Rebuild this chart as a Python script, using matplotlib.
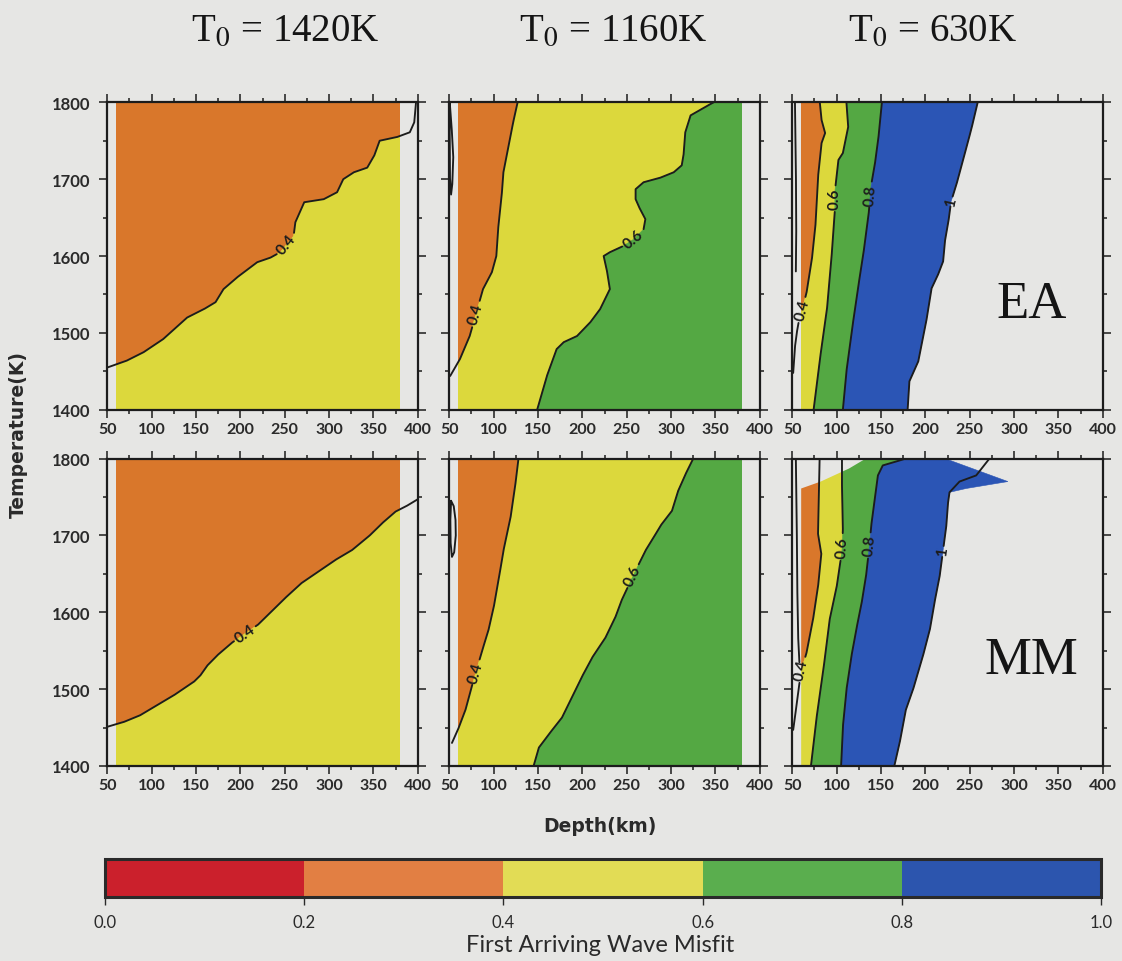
import numpy as np
import matplotlib
matplotlib.use("Agg")
import matplotlib.pyplot as plt
import matplotlib as mpl
from matplotlib.patches import Polygon
from matplotlib.colors import ListedColormap, BoundaryNorm
from matplotlib.ticker import MultipleLocator

plt.rcParams["mathtext.fontset"] = "stix"

# ---------------------------------------------------------------- data
misfit_levels = [0.0, 0.2, 0.4, 0.6, 0.8, 1.0]
band_colors = ["#c9202b", "#d9772b", "#dcd83c", "#54a843", "#2b55b5"]
cbar_colors = ["#cb202c", "#e27f43", "#e2dc55", "#5aae4e", "#2c55ae"]
surface_temps = ["1420K", "1160K", "630K"]
models = ["EA", "MM"]
depth_ticks = [50, 100, 150, 200, 250, 300, 350, 400]
temp_ticks = [1400, 1500, 1600, 1700, 1800]
cbar_ticks = [0.0, 0.2, 0.4, 0.6, 0.8, 1.0]

# EA, T0 = 1420K
ea1420_c04_depth = [50, 72, 91, 113, 140, 159, 172, 181, 196, 219, 234, 245, 260, 262,
                    272, 294, 309, 316, 328, 343, 351, 357, 377, 391, 396, 398]
ea1420_c04_temp = [1455, 1464, 1475, 1492, 1520, 1531, 1540, 1557, 1572, 1592, 1598, 1605,
                   1626, 1644, 1670, 1674, 1683, 1700, 1709, 1715, 1731, 1750, 1755, 1761,
                   1774, 1800]

# EA, T0 = 1160K
ea1160_c04_depth = [51, 62, 73, 88, 98, 103, 105, 109, 111, 117, 122, 127]
ea1160_c04_temp = [1444, 1466, 1496, 1557, 1579, 1600, 1635, 1678, 1709, 1744, 1774, 1800]
ea1160_c06_depth = [149, 160, 171, 179, 194, 209, 220, 231, 228, 224, 231, 246, 258, 269,
                    271, 265, 260, 260, 269, 288, 303, 312, 314, 316, 322, 337, 348]
ea1160_c06_temp = [1400, 1444, 1479, 1488, 1496, 1514, 1531, 1557, 1579, 1600, 1605, 1613,
                   1622, 1635, 1648, 1661, 1674, 1687, 1696, 1702, 1709, 1718, 1731, 1761,
                   1783, 1793, 1800]
ea1160_loop_depth = [50.5, 52.5, 54.5, 53.5, 52, 50.8, 50.4, 50.5]
ea1160_loop_temp = [1800, 1770, 1730, 1695, 1680, 1700, 1750, 1800]

# EA, T0 = 630K
ea630_c04_depth = [51, 53, 55, 57, 61, 66, 72, 76, 79, 83, 87, 83, 81]
ea630_c04_temp = [1448, 1482, 1500, 1513, 1530, 1552, 1595, 1638, 1703, 1747, 1760, 1777, 1800]
ea630_c06_depth = [74, 81, 89, 94, 98, 98, 102, 107, 113, 111]
ea630_c06_temp = [1400, 1465, 1530, 1595, 1660, 1684, 1725, 1734, 1768, 1800]
ea630_c08_depth = [107, 111, 117, 124, 130, 136, 139, 143, 147, 151]
ea630_c08_temp = [1400, 1450, 1502, 1558, 1602, 1654, 1693, 1719, 1753, 1800]
ea630_c10_depth = [180, 182, 192, 201, 207, 214, 220, 222, 226, 229, 235, 241, 246, 252, 259]
ea630_c10_temp = [1400, 1437, 1463, 1515, 1558, 1575, 1593, 1619, 1645, 1671, 1693, 1719,
                  1740, 1766, 1800]
ea630_edge_depth = [53, 54, 54.5, 54]
ea630_edge_temp = [1800, 1720, 1640, 1580]

# MM, T0 = 1420K
mm1420_c04_depth = [50, 68, 87, 106, 125, 148, 155, 163, 174, 190, 220, 235, 250, 269, 288,
                    307, 326, 345, 360, 375, 387, 400]
mm1420_c04_temp = [1451, 1457, 1466, 1479, 1492, 1510, 1518, 1531, 1544, 1560, 1584, 1601,
                   1618, 1638, 1653, 1668, 1681, 1699, 1716, 1731, 1738, 1747]

# MM, T0 = 1160K
mm1160_c04_depth = [53, 60, 68, 74, 87, 94, 100, 106, 111, 119, 124, 128]
mm1160_c04_temp = [1430, 1448, 1472, 1498, 1550, 1576, 1606, 1645, 1680, 1723, 1762, 1800]
mm1160_c06_depth = [145, 151, 162, 177, 188, 199, 211, 226, 237, 244, 257, 271, 278, 289,
                    301, 308, 316, 325]
mm1160_c06_temp = [1400, 1424, 1441, 1463, 1489, 1515, 1541, 1567, 1593, 1615, 1647, 1680,
                   1693, 1714, 1732, 1758, 1779, 1800]
mm1160_loop_depth = [52, 55, 57, 57.3, 55.5, 53, 51.5, 51.2, 52]
mm1160_loop_temp = [1745, 1738, 1720, 1700, 1678, 1672, 1690, 1720, 1745]

# MM, T0 = 630K
mm630_c04_depth = [51, 52.6, 56.4, 60.1, 65.8, 73.3, 79, 82.7, 79, 80.8]
mm630_c04_temp = [1447, 1460, 1494, 1525, 1546, 1590, 1633, 1676, 1702, 1800]
mm630_c06_depth = [71, 77, 85, 92, 100, 106, 107, 106, 106]
mm630_c06_temp = [1400, 1460, 1525, 1590, 1633, 1680, 1707, 1760, 1800]
mm630_c08_depth = [105, 107, 111, 116.5, 122, 128, 133, 137, 139, 143, 146.5, 152, 167, 178]
mm630_c08_temp = [1400, 1451, 1499, 1542, 1577, 1611, 1646, 1687, 1713, 1748, 1778, 1791,
                  1796, 1800]
mm630_c10_depth = [165, 171, 178, 186, 197, 205, 210, 216, 220, 223.5, 225.4, 227.2, 238.5,
                   257.3, 272.3]
mm630_c10_temp = [1400, 1430, 1473, 1499, 1542, 1577, 1611, 1646, 1681, 1711, 1741, 1756,
                  1770, 1778, 1800]
mm630_blue_depth = [165, 171, 178, 186, 197, 205, 210, 216, 220, 223.5, 225.4, 227.2, 246,
                    293, 222]
mm630_blue_temp = [1400, 1430, 1473, 1499, 1542, 1577, 1611, 1646, 1681, 1711, 1741, 1756,
                   1761, 1770, 1800]
mm630_edge_depth = [54, 55, 55.5, 56.5, 58]
mm630_edge_temp = [1800, 1720, 1640, 1570, 1535]

# Extent of the computed grid in each panel
grid_depth = [60, 380, 380, 60]
grid_temp = [1400, 1400, 1800, 1800]
grid630_depth = [60, 400, 400, 60]
grid630_temp = [1400, 1400, 1800, 1800]
mm630_grid_depth = [60, 400, 400, 133, 114, 82, 60]
mm630_grid_temp = [1400, 1400, 1800, 1800, 1787, 1770, 1761]

panels = {
    (0, 0): dict(
        grid=(grid_depth, grid_temp),
        edges=[(ea1420_c04_depth, ea1420_c04_temp)],
        bands=[1, 2],
        lines=[(ea1420_c04_depth, ea1420_c04_temp, "0.4", (252, 1615))],
    ),
    (0, 1): dict(
        grid=(grid_depth, grid_temp),
        edges=[(ea1160_c04_depth, ea1160_c04_temp), (ea1160_c06_depth, ea1160_c06_temp)],
        bands=[1, 2, 3],
        lines=[(ea1160_c04_depth, ea1160_c04_temp, "0.4", (80, 1525)),
               (ea1160_c06_depth, ea1160_c06_temp, "0.6", (258, 1622)),
               (ea1160_loop_depth, ea1160_loop_temp, None, None)],
    ),
    (0, 2): dict(
        grid=(grid630_depth, grid630_temp),
        edges=[(ea630_c04_depth, ea630_c04_temp), (ea630_c06_depth, ea630_c06_temp),
               (ea630_c08_depth, ea630_c08_temp), (ea630_c10_depth, ea630_c10_temp)],
        bands=[1, 2, 3, 4, None],
        lines=[(ea630_c04_depth, ea630_c04_temp, "0.4", (61, 1530)),
               (ea630_c06_depth, ea630_c06_temp, "0.6", (98, 1675)),
               (ea630_c08_depth, ea630_c08_temp, "0.8", (138, 1680)),
               (ea630_c10_depth, ea630_c10_temp, "1", (229, 1671)),
               (ea630_edge_depth, ea630_edge_temp, None, None)],
    ),
    (1, 0): dict(
        grid=(grid_depth, grid_temp),
        edges=[(mm1420_c04_depth, mm1420_c04_temp)],
        bands=[1, 2],
        lines=[(mm1420_c04_depth, mm1420_c04_temp, "0.4", (205, 1572))],
    ),
    (1, 1): dict(
        grid=(grid_depth, grid_temp),
        edges=[(mm1160_c04_depth, mm1160_c04_temp), (mm1160_c06_depth, mm1160_c06_temp)],
        bands=[1, 2, 3],
        lines=[(mm1160_c04_depth, mm1160_c04_temp, "0.4", (80, 1522)),
               (mm1160_c06_depth, mm1160_c06_temp, "0.6", (257, 1647)),
               (mm1160_loop_depth, mm1160_loop_temp, None, None)],
    ),
    (1, 2): dict(
        grid=(mm630_grid_depth, mm630_grid_temp),
        edges=[(mm630_c04_depth, mm630_c04_temp), (mm630_c06_depth, mm630_c06_temp),
               (mm630_c08_depth, mm630_c08_temp), (mm630_blue_depth, mm630_blue_temp)],
        bands=[1, 2, 3, 4, None],
        lines=[(mm630_c04_depth, mm630_c04_temp, "0.4", (60.1, 1525)),
               (mm630_c06_depth, mm630_c06_temp, "0.6", (106.5, 1685)),
               (mm630_c08_depth, mm630_c08_temp, "0.8", (137, 1687)),
               (mm630_c10_depth, mm630_c10_temp, "1", (219.6, 1679)),
               (mm630_edge_depth, mm630_edge_temp, None, None)],
    ),
}

# ---------------------------------------------------------------- style
BG = "#e6e6e4"
INK = "#1c1c1c"
SANS = "Lato"
WIDE_SANS = "DejaVu Sans"
SERIF = "Liberation Serif"
FIG_W, FIG_H = 1122, 962

fig = plt.figure(figsize=(FIG_W / 100, FIG_H / 100), dpi=100, facecolor=BG)

col_left = [107.3, 449.3, 792.3]
row_top = [103.3, 459.5]
ax_w, ax_h = 310.5, 307.5

LEFT_FRAME = [(-100, 1300), (-100, 1900)]
RIGHT_FRAME = [(600, 1300), (600, 1900)]


def extended(depth, temp):
    """Carry a boundary past the bottom and top of the frame."""
    pts = list(zip(depth, temp))
    return [(depth[0], 1300)] + pts + [(depth[-1], 1900)]


def draw_contour(ax, depth, temp, label, at):
    pts = ax.transData.transform(np.column_stack([depth, temp]))
    dense = [pts[0]]
    for a, b in zip(pts[:-1], pts[1:]):
        n = max(int(np.hypot(*(b - a))), 1)
        for k in range(1, n + 1):
            dense.append(a + (b - a) * k / n)
    dense = np.array(dense, dtype=float)
    if label is not None:
        c = ax.transData.transform(at)
        r = np.hypot(dense[:, 0] - c[0], dense[:, 1] - c[1])
        i = int(np.argmin(r))
        lo, hi = max(i - 6, 0), min(i + 6, len(dense) - 1)
        dx, dy = dense[hi] - dense[lo]
        ang = np.degrees(np.arctan2(dy, dx))
        if ang > 90:
            ang -= 180
        elif ang <= -90:
            ang += 180
        gap = 5 if len(label) == 1 else 13
        dense[r < gap] = np.nan
        ax.text(at[0], at[1], label, rotation=ang, rotation_mode="anchor",
                ha="center", va="center", fontsize=11, fontweight="bold",
                family=SANS, color=INK, zorder=6)
    xy = ax.transData.inverted().transform(dense)
    ax.plot(xy[:, 0], xy[:, 1], color=INK, lw=1.35, zorder=5, solid_capstyle="round")


for (row, col), spec in panels.items():
    rect = [col_left[col] / FIG_W, 1 - (row_top[row] + ax_h) / FIG_H,
            ax_w / FIG_W, ax_h / FIG_H]
    ax = fig.add_axes(rect)
    ax.set_facecolor(BG)
    ax.set_xlim(50, 400)
    ax.set_ylim(1400, 1800)

    gd, gt = spec["grid"]
    clip = Polygon(np.column_stack([gd, gt]), closed=True, transform=ax.transData)

    bounds = [LEFT_FRAME] + [extended(d, t) for d, t in spec["edges"]] + [RIGHT_FRAME]
    for k, band in enumerate(spec["bands"]):
        if band is None:
            continue
        verts = bounds[k] + bounds[k + 1][::-1]
        poly = Polygon(verts, closed=True, facecolor=band_colors[band],
                       edgecolor=band_colors[band], lw=0.4, zorder=2)
        ax.add_patch(poly)
        poly.set_clip_path(clip)

    for d, t, label, at in spec["lines"]:
        draw_contour(ax, d, t, label, at)

    ax.set_xticks(depth_ticks)
    ax.set_yticks(temp_ticks)
    ax.xaxis.set_minor_locator(MultipleLocator(25))
    ax.yaxis.set_minor_locator(MultipleLocator(50))
    ax.tick_params(which="both", direction="out", top=True, right=True,
                   color=INK, width=1.1)
    ax.tick_params(which="major", length=6)
    ax.tick_params(which="minor", length=3)
    ax.tick_params(axis="x", pad=3)
    ax.tick_params(axis="y", pad=6)
    for lab in ax.get_xticklabels():
        lab.set_fontsize(11.5)
        lab.set_fontweight("bold")
        lab.set_family(SANS)
        lab.set_color("#2a2a2a")
    if col == 0:
        for lab in ax.get_yticklabels():
            lab.set_fontsize(12)
            lab.set_fontweight("bold")
            lab.set_family(SANS)
            lab.set_color("#2a2a2a")
    else:
        ax.set_yticklabels([])
    for s in ax.spines.values():
        s.set_color(INK)
        s.set_linewidth(1.6)
        s.set_zorder(7)

    if col == 2:
        ax.text(0.77, 0.345, models[row], transform=ax.transAxes, ha="center",
                va="center", family=SERIF, fontsize=38, color="#151515")

# column headings
for x_px, t0 in zip([285, 613, 933], surface_temps):
    fig.text(x_px / FIG_W, 1 - 31 / FIG_H, r"T$_0$ = " + t0, ha="center", va="center",
             family=SERIF, fontsize=28, color="#151515")

fig.text(18 / FIG_W, 1 - 435 / FIG_H, "Temperature(K)", rotation=90, ha="center",
         va="center", family=WIDE_SANS, fontweight="bold", fontsize=13.5, color="#2a2a2a")
fig.text(600 / FIG_W, 1 - 827 / FIG_H, "Depth(km)", ha="center", va="center",
         family=WIDE_SANS, fontweight="bold", fontsize=13.5, color="#2a2a2a")

# colour scale
cax = fig.add_axes([105 / FIG_W, 1 - 898 / FIG_H, 996 / FIG_W, 38 / FIG_H])
cmap = ListedColormap(cbar_colors)
norm = BoundaryNorm(misfit_levels, cmap.N)
cb = mpl.colorbar.ColorbarBase(cax, cmap=cmap, norm=norm, orientation="horizontal",
                               ticks=cbar_ticks, spacing="proportional")
cb.outline.set_linewidth(2.2)
cb.outline.set_edgecolor("#2a2a2a")
cax.set_xticklabels([f"{v:.1f}" for v in cbar_ticks])
cax.tick_params(direction="out", length=6, width=1.0, color="#2a2a2a", pad=6)
for lab in cax.get_xticklabels():
    lab.set_fontsize(12)
    lab.set_family(SANS)
    lab.set_color("#2a2a2a")
fig.text(600 / FIG_W, 1 - 946 / FIG_H, "First Arriving Wave Misfit", ha="center",
         va="center", family=SANS, fontsize=17, color="#2a2a2a")

fig.savefig("out.png", dpi=100, facecolor=BG)
